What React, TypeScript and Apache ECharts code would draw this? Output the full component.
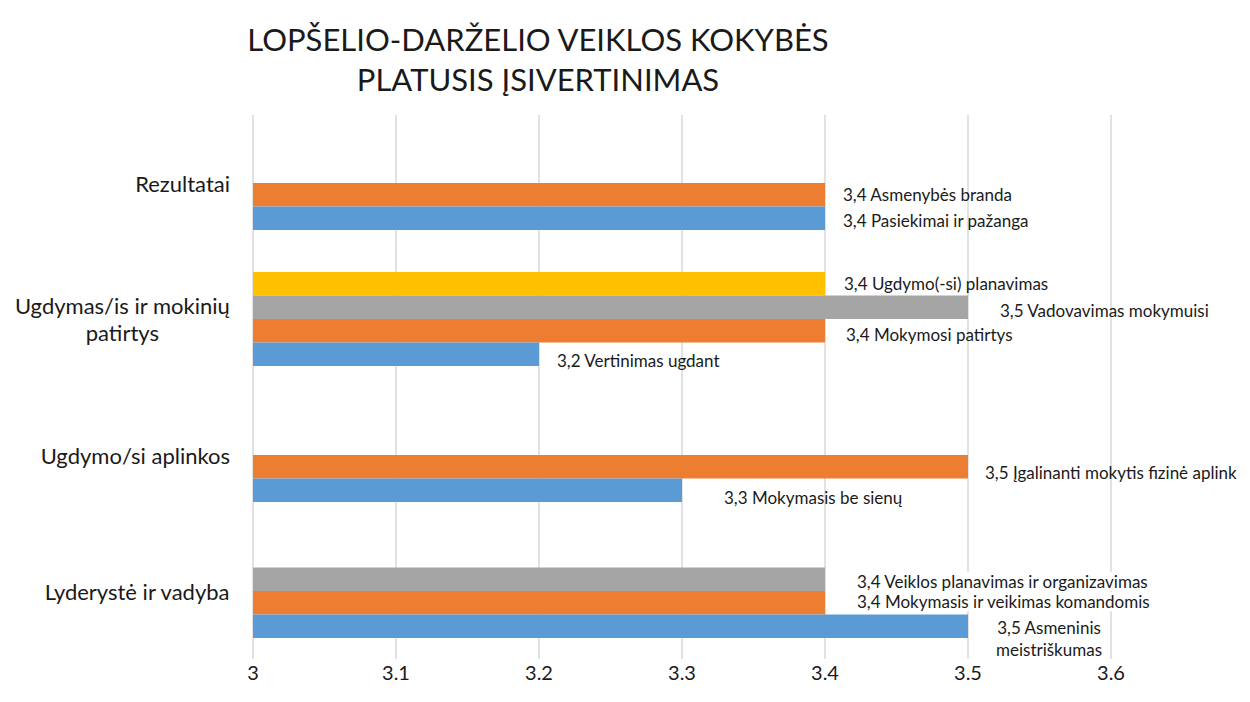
import React, { useEffect, useRef } from "react";
import * as echarts from "echarts";

// Categories, bottom to top
const categories = [
  "Lyderystė ir vadyba",
  "Ugdymo/si aplinkos",
  "Ugdymas/is ir mokinių\npatirtys",
  "Rezultatai",
];

// Series values per category (null = no bar)
const blueValues = [3.5, 3.3, 3.2, 3.4];
const orangeValues = [3.4, 3.5, 3.4, 3.4];
const grayValues = [3.4, null, 3.5, null];
const yellowValues = [null, null, 3.4, null];

// Bar label texts
const blueLabels = [
  "3,5 Asmeninis\nmeistriškumas",
  "3,3 Mokymasis be sienų",
  "3,2 Vertinimas ugdant",
  "3,4 Pasiekimai ir pažanga",
];
const orangeLabels = [
  "3,4 Mokymasis ir veikimas komandomis",
  "3,5 Įgalinanti mokytis fizinė aplinka",
  "3,4 Mokymosi patirtys",
  "3,4 Asmenybės branda",
];
const grayLabels = ["3,4 Veiklos planavimas ir organizavimas", "", "3,5 Vadovavimas mokymuisi", ""];
const yellowLabels = ["", "", "3,4 Ugdymo(-si) planavimas", ""];

const xTicks = { min: 3, max: 3.6, interval: 0.1 };

// label placement tweaks (layout only)
const blueLabelLayout = [
  { offset: [81, 12], align: "center", bg: false },
  { offset: [42, 7] },
  { offset: [18, 6] },
  { offset: [18, 2] },
];
const orangeLabelLayout = [
  { offset: [32, -1], bg: true },
  { offset: [17, 6] },
  { offset: [21, 4] },
  { offset: [18, 0] },
];
const grayLabelLayout = [{ offset: [32, 2], bg: true }, {}, { offset: [32, 3] }, {}];
const yellowLabelLayout = [{}, {}, { offset: [19, 0] }, {}];

const FONT = "Lato, 'Open Sans', sans-serif";
const TEXT = "#1a1a1a";

function buildData(values: (number | null)[], labels: string[], layout: any[]) {
  return values.map((v, i) => {
    if (v === null) return { value: null };
    const l = layout[i] || {};
    return {
      value: v,
      label: {
        show: true,
        position: "right",
        distance: 0,
        formatter: labels[i],
        offset: l.offset || [18, 0],
        align: l.align || "left",
        backgroundColor: l.bg ? "#ffffff" : "transparent",
        lineHeight: l.align === "center" ? 22 : 19,
      },
    };
  });
}

export default function App() {
  const ref = useRef<HTMLDivElement>(null);
  useEffect(() => {
    if (!ref.current) return;
    const chart = echarts.init(ref.current, undefined, { renderer: "svg" });
    const barCommon = {
      type: "bar",
      barWidth: 23.5,
      barGap: "0%",
      label: {
        show: true,
        fontFamily: FONT,
        fontSize: 17,
        color: TEXT,
      },
    };
    chart.setOption({
      animation: false,
      backgroundColor: "#ffffff",
      title: {
        text: "LOPŠELIO-DARŽELIO VEIKLOS KOKYBĖS\nPLATUSIS ĮSIVERTINIMAS",
        left: 533,
        top: 14,
        textAlign: "center",
        textStyle: {
          fontFamily: FONT,
          fontSize: 31,
          fontWeight: "normal",
          color: TEXT,
          lineHeight: 40,
        },
      },
      grid: { left: 253, right: 126, top: 115, bottom: 43, containLabel: false },
      xAxis: {
        type: "value",
        min: xTicks.min,
        max: xTicks.max,
        interval: xTicks.interval,
        axisLine: { show: false },
        axisTick: { show: false },
        splitLine: { show: true, lineStyle: { color: "#d9d9d9", width: 1.5 } },
        axisLabel: { fontFamily: FONT, fontSize: 20, color: TEXT, margin: 3 },
      },
      yAxis: {
        type: "category",
        data: categories,
        axisLine: { show: false },
        axisTick: { show: false },
        splitLine: { show: false },
        axisLabel: {
          margin: 23,
          align: "right",
          formatter: (v: string) =>
            v
              .split("\n")
              .map((s) => `{c|${s}}`)
              .join("\n"),
          rich: {
            c: {
              align: "center",
              fontFamily: FONT,
              fontSize: 22,
              color: TEXT,
              lineHeight: 27,
            },
          },
        },
      },
      series: [
        { ...barCommon, name: "s4", itemStyle: { color: "#FFC000" }, data: buildData(yellowValues, yellowLabels, yellowLabelLayout) },
        { ...barCommon, name: "s3", itemStyle: { color: "#A5A5A5" }, data: buildData(grayValues, grayLabels, grayLabelLayout) },
        { ...barCommon, name: "s2", itemStyle: { color: "#ED7D31" }, data: buildData(orangeValues, orangeLabels, orangeLabelLayout) },
        { ...barCommon, name: "s1", itemStyle: { color: "#5B9BD5" }, data: buildData(blueValues, blueLabels, blueLabelLayout) },
      ],
    });
    return () => chart.dispose();
  }, []);
  return (
    <div
      style={{ position: "absolute", left: 0, top: 0, width: 1250, height: 702, background: "#fff", overflow: "hidden" }}
    >
      <div ref={ref} style={{ width: 1237, height: 702, overflow: "hidden" }} />
    </div>
  );
}
